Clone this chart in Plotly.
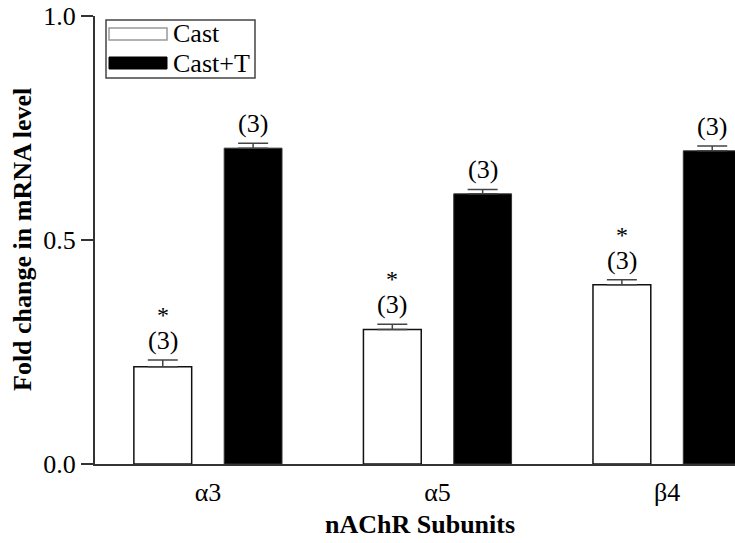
import plotly.graph_objects as go

# Relative nAChR subunit mRNA levels (fold change), mean ± SEM, n in parentheses
subunits = ["α3", "α5", "β4"]
cast_vals = [0.217, 0.300, 0.400]
cast_err = [0.015, 0.012, 0.011]
castT_vals = [0.705, 0.603, 0.699]
castT_err = [0.011, 0.010, 0.011]
cast_n = ["(3)", "(3)", "(3)"]
castT_n = ["(3)", "(3)", "(3)"]
cast_sig = ["*", "*", "*"]

SERIF = "Liberation Serif, Times New Roman, serif"
LBL = 26  # size of the n labels

fig = go.Figure()

fig.add_trace(go.Bar(
    name="Cast", x=subunits, y=cast_vals,
    marker=dict(color="white", line=dict(color="#111111", width=1.5)),
    error_y=dict(type="data", array=cast_err, arrayminus=[0] * len(cast_err),
                 symmetric=False, color="#444444", thickness=1.5, width=15),
    offsetgroup="a",
))
fig.add_trace(go.Bar(
    name="Cast+T", x=subunits, y=castT_vals,
    marker=dict(color="black", line=dict(color="#333333", width=1)),
    error_y=dict(type="data", array=castT_err, arrayminus=[0] * len(castT_err),
                 symmetric=False, color="#444444", thickness=1.5, width=15),
    offsetgroup="b",
))

annotations = []
bar_slot = 0.393  # distance between group members in category units
for i, cat in enumerate(subunits):
    # n label above each error bar, significance mark right above it
    top_c = cast_vals[i] + cast_err[i]
    annotations.append(dict(x=i - bar_slot / 2, y=top_c, xref="x", yref="y",
                            text=cast_n[i], showarrow=False, yanchor="bottom",
                            yshift=4, borderpad=0,
                            font=dict(family=SERIF, size=LBL, color="black")))
    annotations.append(dict(x=i - bar_slot / 2, y=top_c, xref="x", yref="y",
                            text=cast_sig[i], showarrow=False, yanchor="bottom",
                            yshift=31, borderpad=0,
                            font=dict(family=SERIF, size=24, color="black")))
    top_t = castT_vals[i] + castT_err[i]
    annotations.append(dict(x=i + bar_slot / 2, y=top_t, xref="x", yref="y",
                            text=castT_n[i], showarrow=False, yanchor="bottom",
                            yshift=4, borderpad=0,
                            font=dict(family=SERIF, size=LBL, color="black")))

W, H = 735, 543
L, R, T, B = 95, 0, 16, 79
pw, ph = W - L - R, H - T - B


def px(x):
    return (x - L) / pw


def py(y):
    return (H - B - y) / ph


# axis titles
annotations.append(dict(x=px(420), y=py(524), xref="paper", yref="paper",
                        text="<b>nAChR Subunits</b>", showarrow=False,
                        xanchor="center", yanchor="middle",
                        font=dict(family=SERIF, size=26, color="black")))
annotations.append(dict(x=px(22), y=0.5, xref="paper", yref="paper",
                        text="<b>Fold change in mRNA level</b>", showarrow=False,
                        textangle=-90, xanchor="center", yanchor="middle",
                        font=dict(family=SERIF, size=26, color="black")))

# legend box
shapes = [
    dict(type="rect", xref="paper", yref="paper",
         x0=px(106), x1=px(255), y0=py(78), y1=py(20),
         line=dict(color="#444444", width=1.5), fillcolor="white", layer="above"),
    dict(type="rect", xref="paper", yref="paper",
         x0=px(109), x1=px(167), y0=py(40), y1=py(28),
         line=dict(color="#999999", width=1.5), fillcolor="white", layer="above"),
    dict(type="rect", xref="paper", yref="paper",
         x0=px(109), x1=px(167), y0=py(69), y1=py(57),
         line=dict(color="black", width=1), fillcolor="black", layer="above"),
]
annotations.append(dict(x=px(171), y=py(34), xref="paper", yref="paper",
                        text="Cast", showarrow=False, xanchor="left", yanchor="middle",
                        font=dict(family=SERIF, size=26, color="black")))
annotations.append(dict(x=px(171), y=py(64), xref="paper", yref="paper",
                        text="Cast+T", showarrow=False, xanchor="left", yanchor="middle",
                        font=dict(family=SERIF, size=26, color="black")))

fig.update_layout(
    width=W, height=H,
    margin=dict(l=L, r=R, t=T, b=B),
    paper_bgcolor="white", plot_bgcolor="white",
    barmode="group", bargap=0.213, bargroupgap=0.36,
    showlegend=False,
    font=dict(family=SERIF, size=20, color="black"),
    xaxis=dict(
        type="category", range=[-0.492, 2.296],
        showline=True, linecolor="#333333", linewidth=2,
        ticks="", showgrid=False, zeroline=False,
        tickfont=dict(family=SERIF, size=26, color="black"),
        ticklabelstandoff=4,
    ),
    yaxis=dict(
        range=[0, 1.0], tickvals=[0, 0.5, 1.0], ticktext=["0.0", "0.5", "1.0"],
        showline=True, linecolor="#333333", linewidth=2,
        ticks="outside", ticklen=12, tickwidth=1.5, tickcolor="#333333",
        showgrid=False, zeroline=False,
        tickfont=dict(family=SERIF, size=26, color="black"),
    ),
    annotations=annotations,
    shapes=shapes,
)

fig.write_html("out.html")
